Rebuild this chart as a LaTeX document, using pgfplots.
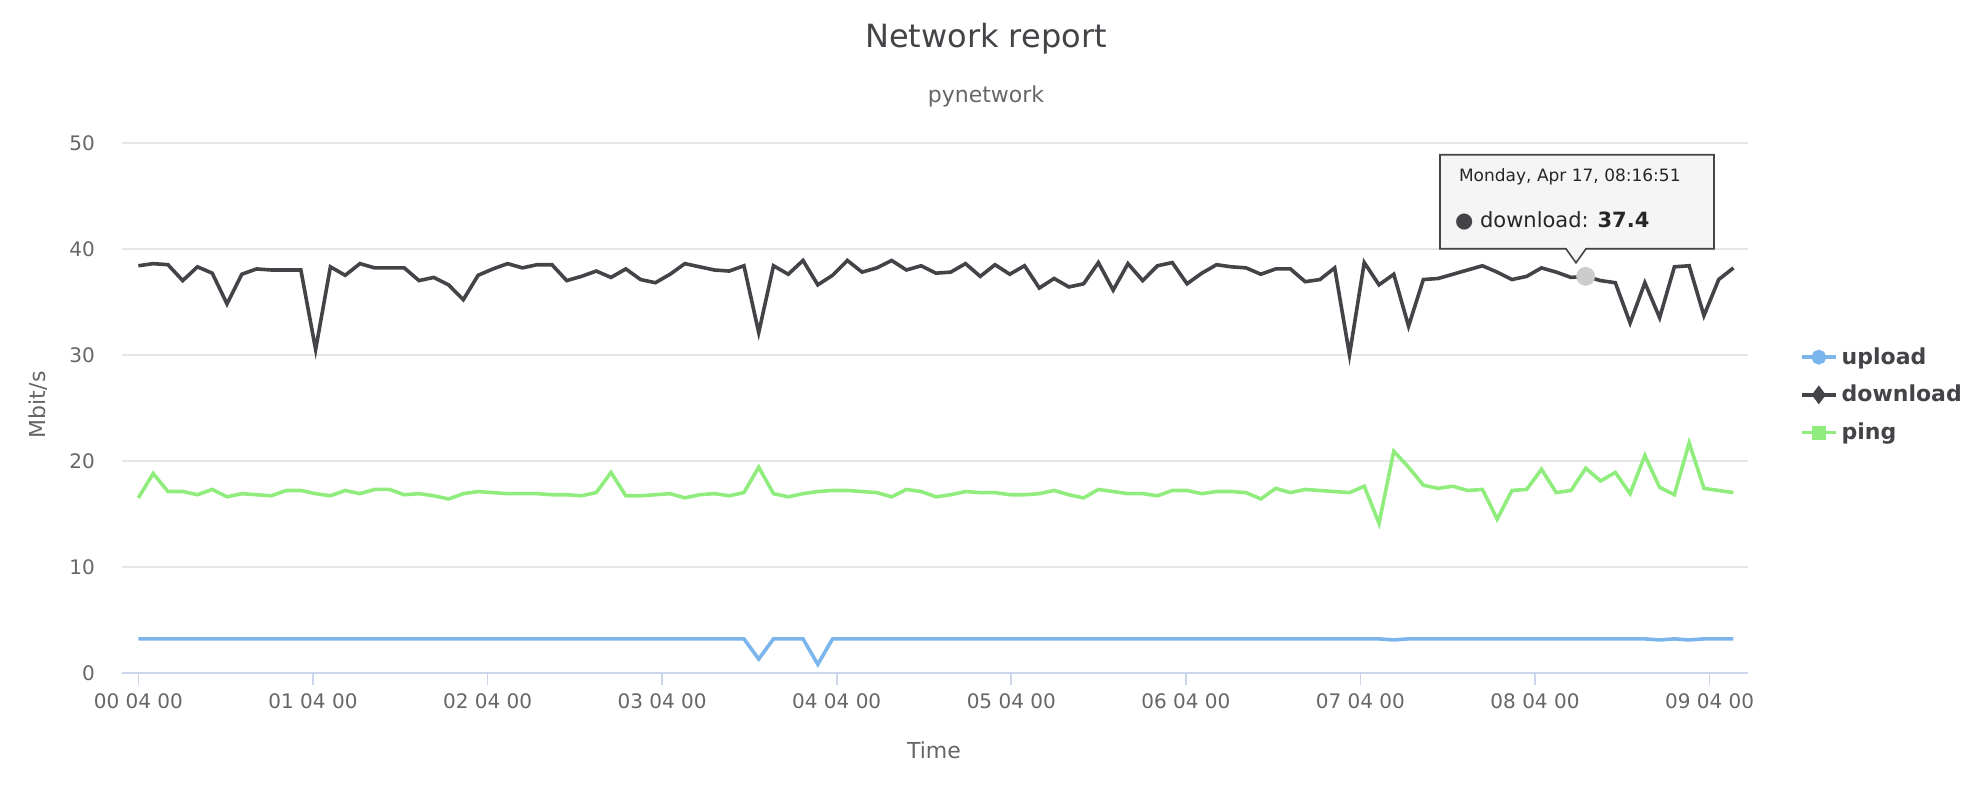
\documentclass[border=0pt]{standalone}
\usepackage{pgfplots}
\pgfplotsset{compat=1.18}
\usepackage{fontspec}
\setmainfont{DejaVu Sans}
\definecolor{dl}{HTML}{434348}
\definecolor{ul}{HTML}{7CB5EC}
\definecolor{pg}{HTML}{90ED7D}
\definecolor{gridc}{HTML}{E6E6E6}
\definecolor{axc}{HTML}{CCD6EB}
\definecolor{txt}{HTML}{666666}
\begin{document}
\begin{tikzpicture}
\begin{axis}[
  at={(0,0)}, anchor=south west, scale only axis,
  width=813pt, height=265pt,
  xmin=-0.094, xmax=9.22, ymin=0, ymax=50,
  ytick={0,10,20,30,40,50},
  xtick={0,1,2,3,4,5,6,7,8,9},
  xticklabels={00 04 00,01 04 00,02 04 00,03 04 00,04 04 00,05 04 00,06 04 00,07 04 00,08 04 00,09 04 00},
  ymajorgrids, grid style={gridc, line width=0.7pt},
  axis x line*=bottom, axis y line*=left,
  y axis line style={draw=none},
  ytick style={draw=none},
  x axis line style={axc, line width=0.8pt, -},
  xtick style={axc, line width=0.8pt},
  tick align=outside, major tick length=6pt,
  ticklabel style={font=\fontsize{10}{12}\selectfont, text=txt},
  /pgf/number format/assume math mode=true,
  xticklabel style={yshift=-1pt},
  yticklabel style={xshift=-4pt},
  legend style={at={(1.028,0.63)}, anchor=north west, draw=none, fill=none,
    font=\fontsize{11}{13}\bfseries\selectfont, text=dl, row sep=5pt},
  legend cell align=left,
  clip=false,
]
\addplot[ul, line width=1.8pt, mark=*, mark size=2.8pt, mark repeat=1000, mark phase=2000] table[x expr=\coordindex*0.0846, y index=0] {
3.2
3.2
3.2
3.2
3.2
3.2
3.2
3.2
3.2
3.2
3.2
3.2
3.2
3.2
3.2
3.2
3.2
3.2
3.2
3.2
3.2
3.2
3.2
3.2
3.2
3.2
3.2
3.2
3.2
3.2
3.2
3.2
3.2
3.2
3.2
3.2
3.2
3.2
3.2
3.2
3.2
3.2
1.3
3.2
3.2
3.2
0.8
3.2
3.2
3.2
3.2
3.2
3.2
3.2
3.2
3.2
3.2
3.2
3.2
3.2
3.2
3.2
3.2
3.2
3.2
3.2
3.2
3.2
3.2
3.2
3.2
3.2
3.2
3.2
3.2
3.2
3.2
3.2
3.2
3.2
3.2
3.2
3.2
3.2
3.2
3.1
3.2
3.2
3.2
3.2
3.2
3.2
3.2
3.2
3.2
3.2
3.2
3.2
3.2
3.2
3.2
3.2
3.2
3.1
3.2
3.1
3.2
3.2
3.2
};
\addlegendentry{upload}
\addplot[dl, line width=1.8pt, mark=diamond*, mark size=3.2pt, mark repeat=1000, mark phase=2000] table[x expr=\coordindex*0.0846, y index=0] {
38.4
38.6
38.5
37.0
38.3
37.7
34.8
37.6
38.1
38.0
38.0
38.0
30.5
38.3
37.5
38.6
38.2
38.2
38.2
37.0
37.3
36.6
35.2
37.5
38.1
38.6
38.2
38.5
38.5
37.0
37.4
37.9
37.3
38.1
37.1
36.8
37.6
38.6
38.3
38.0
37.9
38.4
32.1
38.4
37.6
38.9
36.6
37.5
38.9
37.8
38.2
38.9
38.0
38.4
37.7
37.8
38.6
37.4
38.5
37.6
38.4
36.3
37.2
36.4
36.7
38.7
36.1
38.6
37.0
38.4
38.7
36.7
37.7
38.5
38.3
38.2
37.6
38.1
38.1
36.9
37.1
38.2
30.0
38.7
36.6
37.6
32.7
37.1
37.2
37.6
38.0
38.4
37.8
37.1
37.4
38.2
37.8
37.3
37.4
37.0
36.8
33.0
36.8
33.5
38.3
38.4
33.7
37.1
38.2
};
\addlegendentry{download}
\addplot[pg, line width=1.8pt, mark=square*, mark size=2.6pt, mark repeat=1000, mark phase=2000] table[x expr=\coordindex*0.0846, y index=0] {
16.5
18.8
17.1
17.1
16.8
17.3
16.6
16.9
16.8
16.7
17.2
17.2
16.9
16.7
17.2
16.9
17.3
17.3
16.8
16.9
16.7
16.4
16.9
17.1
17.0
16.9
16.9
16.9
16.8
16.8
16.7
17.0
18.9
16.7
16.7
16.8
16.9
16.5
16.8
16.9
16.7
17.0
19.4
16.9
16.6
16.9
17.1
17.2
17.2
17.1
17.0
16.6
17.3
17.1
16.6
16.8
17.1
17.0
17.0
16.8
16.8
16.9
17.2
16.8
16.5
17.3
17.1
16.9
16.9
16.7
17.2
17.2
16.9
17.1
17.1
17.0
16.4
17.4
17.0
17.3
17.2
17.1
17.0
17.6
14.1
20.9
19.4
17.7
17.4
17.6
17.2
17.3
14.5
17.2
17.3
19.2
17.0
17.2
19.3
18.1
18.9
16.9
20.5
17.5
16.8
21.7
17.4
17.2
17.0
};
\addlegendentry{ping}
\addplot[only marks, mark=*, mark size=4.5pt, color=gray!40, forget plot] coordinates {(8.29,37.4)};
\end{axis}
\node[font=\fontsize{16}{19}\selectfont, text=dl] at (432pt,317pt) {Network report};
\node[font=\fontsize{11}{13}\selectfont, text=txt] at (432pt,288pt) {pynetwork};
\node[font=\fontsize{11}{13}\selectfont, text=txt, rotate=90] at (-42pt,134pt) {Mbit/s};
\node[font=\fontsize{11}{13}\selectfont, text=txt] at (406pt,-38.5pt) {Time};
\draw[dl, fill=white!96!black, line width=0.8pt] (659pt,259pt) -- (796pt,259pt) -- (796pt,212pt) -- (732pt,212pt) -- (727pt,205pt) -- (722pt,212pt) -- (659pt,212pt) -- cycle;
\node[anchor=west, font=\fontsize{8.5}{10}\selectfont, text=black!85] at (665pt,248pt) {Monday, Apr 17, 08:16:51};
\node[anchor=west, font=\fontsize{10.5}{12}\selectfont, text=black!85] at (663pt,226pt) {{\color{dl}●} download: \textbf{37.4}};
\pgfresetboundingbox
\path (-61pt,-63.2pt) rectangle (930.5pt,336.4pt);
\end{tikzpicture}
\end{document}
